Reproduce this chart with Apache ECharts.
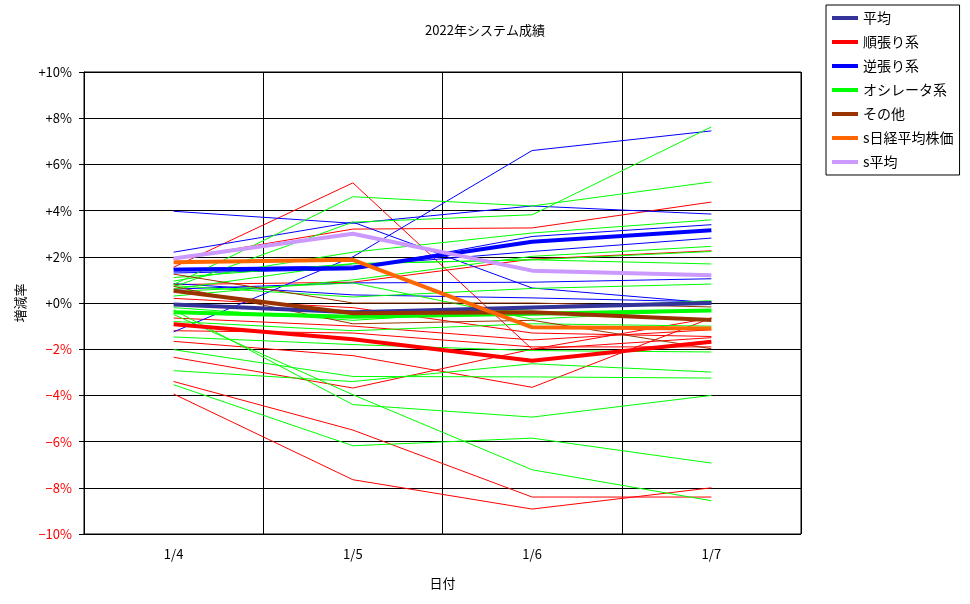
<!DOCTYPE html>
<html>
<head>
<meta charset="utf-8">
<script src="https://cdn.jsdelivr.net/npm/echarts@6/dist/echarts.min.js"></script>
<style>
  html, body { margin: 0; padding: 0; background: #fff; }
  #chart { width: 970px; height: 604px; }
</style>
</head>
<body>
<div id="chart"></div>
<script>
var days = ['1/4', '1/5', '1/6', '1/7'];
var yTicks = [-10, -8, -6, -4, -2, 0, 2, 4, 6, 8, 10];

// 太線（凡例あり）
var avgAll   = [-0.07, -0.4, -0.2, 0.0];    // 平均
var avgTrend = [-0.92, -1.57, -2.5, -1.68]; // 順張り系
var avgContra= [1.44, 1.5, 2.65, 3.15];     // 逆張り系
var avgOsc   = [-0.4, -0.6, -0.46, -0.32];  // オシレータ系
var avgOther = [0.53, -0.44, -0.4, -0.74];  // その他
var nikkei   = [1.76, 1.87, -1.05, -1.1];   // s日経平均株価
var sAvg     = [1.93, 3.0, 1.4, 1.2];       // s平均

// 細線（個別システム）
var trendLines = [ // 順張り系
    [1.55, 5.2, -2.0, -0.65],
    [-3.94, -7.65, -8.92, -8.0],
    [-3.4, -5.5, -8.4, -8.4],
    [1.9, 3.2, 3.25, 4.37],
    [-2.35, -3.68, -2.0, -1.5],
    [-1.66, -2.28, -3.65, -0.65],
    [-0.65, -1.0, -1.6, -1.16],
    [0.8, 0.9, 1.9, 2.26],
    [-1.2, -1.3, -1.9, -1.9],
    [0.2, -0.2, -1.3, -1.45]
];
var contraLines = [ // 逆張り系
    [3.97, 3.45, 4.2, 3.85],
    [2.2, 3.5, 0.65, 0.0],
    [-1.25, 2.0, 6.6, 7.45],
    [0.84, 0.35, 0.22, 0.05],
    [1.3, 1.45, 2.88, 3.39],
    [0.6, 0.87, 0.9, 1.05],
    [1.5, 1.6, 2.23, 2.81]
];
var oscLines = [ // オシレータ系
    [0.8, 4.6, 4.2, 5.24],
    [0.7, 3.5, 3.82, 7.62],
    [-3.54, -6.18, -5.85, -6.93],
    [-0.3, -4.4, -4.94, -4.0],
    [-0.5, -3.97, -7.22, -8.56],
    [-2.02, -3.18, -3.2, -3.25],
    [-2.93, -3.4, -2.63, -2.99],
    [-1.47, -1.8, -2.06, -2.12],
    [0.95, 2.2, 3.03, 3.6],
    [0.3, 1.0, 2.02, 2.45],
    [0.6, 1.7, 1.87, 2.23],
    [1.1, 1.7, 1.87, 1.69],
    [0.75, 0.26, 0.63, 0.82],
    [-0.8, -1.2, -0.9, -1.0],
    [0.5, 0.87, -0.7, -0.3],
    [-0.2, -0.75, -0.25, 0.1]
];
var otherLines = [ // その他
    [1.25, 0.0, 0.0, -0.17],
    [0.72, -0.9, -0.75, -1.98]
];

var FONT = 'Noto Sans CJK JP';

function thin(list, color) {
    return list.map(function(d) {
        return {
            name: '',
            type: 'line',
            data: d,
            symbol: 'none',
            silent: true,
            lineStyle: { color: color, width: 1 },
            z: 2
        };
    });
}

function thick(name, d, color) {
    return {
        name: name,
        type: 'line',
        data: d,
        symbol: 'none',
        itemStyle: { color: color },
        lineStyle: { color: color, width: 4 },
        z: 3
    };
}

var series = []
    .concat(thin(trendLines, '#ff0000'))
    .concat(thin(contraLines, '#0000ff'))
    .concat(thin(oscLines, '#00ff00'))
    .concat(thin(otherLines, '#993300'))
    .concat([
        thick('平均', avgAll, '#333399'),
        thick('順張り系', avgTrend, '#ff0000'),
        thick('逆張り系', avgContra, '#0000ff'),
        thick('オシレータ系', avgOsc, '#00ff00'),
        thick('その他', avgOther, '#993300'),
        thick('s日経平均株価', nikkei, '#ff6600'),
        thick('s平均', sAvg, '#cc99ff')
    ]);

var option = {
    animation: false,
    backgroundColor: '#fff',
    textStyle: { fontFamily: FONT },
    title: {
        text: '2022年システム成績',
        left: 'center',
        top: 19,
        textStyle: { fontSize: 13, fontWeight: 'normal', color: '#000', fontFamily: FONT }
    },
    legend: {
        left: 826,
        top: 5,
        orient: 'vertical',
        padding: [6, 6, 6, 6],
        itemGap: 10,
        itemWidth: 26,
        itemHeight: 4,
        icon: 'rect',
        borderColor: '#000',
        borderWidth: 1,
        textStyle: { fontSize: 14, color: '#000', fontFamily: FONT },
        data: ['平均', '順張り系', '逆張り系', 'オシレータ系', 'その他', 's日経平均株価', 's平均']
    },
    grid: {
        left: 84,
        right: 169,
        top: 72,
        bottom: 70,
        show: true,
        borderColor: '#000',
        borderWidth: 1
    },
    xAxis: {
        type: 'category',
        data: days,
        boundaryGap: true,
        name: '日付',
        nameLocation: 'middle',
        nameGap: 43,
        nameTextStyle: { fontSize: 13, color: '#000' },
        axisLine: { lineStyle: { color: '#000', width: 1 } },
        axisTick: { show: false },
        axisLabel: { margin: 14, fontSize: 13, color: '#000' },
        splitLine: { show: true, lineStyle: { color: '#000', width: 1 } }
    },
    yAxis: {
        type: 'value',
        min: yTicks[0],
        max: yTicks[yTicks.length - 1],
        interval: 2,
        name: '増減率',
        nameLocation: 'middle',
        nameGap: 57,
        nameMoveOverlap: false,
        nameRotate: 90,
        nameTextStyle: { fontSize: 13, color: '#000' },
        axisLine: { show: true, lineStyle: { color: '#000', width: 1 } },
        axisTick: { show: true, length: 5, lineStyle: { color: '#000' } },
        axisLabel: {
            margin: 12,
            fontSize: 13,
            color: function(v) { return Number(v) < 0 ? '#ff0000' : '#000'; },
            formatter: function(v) {
                return v < 0 ? '\u2212' + Math.abs(v) + '%' : '+' + v + '%';
            }
        },
        splitLine: { show: true, lineStyle: { color: '#000', width: 1 } }
    },
    series: series
};

var myChart = echarts.init(document.getElementById('chart'));
myChart.setOption(option);
</script>
</body>
</html>
